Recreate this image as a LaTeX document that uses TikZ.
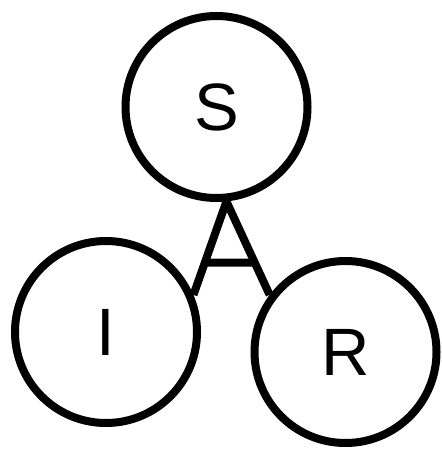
\documentclass[tikz,border=0pt]{standalone}
\usepackage{fontspec}
\setmainfont{Liberation Sans}
\usetikzlibrary{calc}

\begin{document}
\begin{tikzpicture}[x=1pt,y=-1pt]
  \tikzset{
    state/.style={draw, circle, line width=8pt, minimum size=182pt, inner sep=0pt,
                  font=\fontsize{67}{80}\selectfont},
    leg/.style={line width=8pt}
  }
  \useasboundingbox (0,0) rectangle (441,454);

  % compartments
  \node[state] (S) at (216.5,107) {S};
  \node[state] (I) at (106,332) {I};
  \node[state] (R) at (345.5,352) {R};

  % the A between them
  \coordinate (apex) at (S.-84);
  \draw[leg] (apex) -- (I.23);
  \draw[leg] (apex) -- (R.143);
  \draw[leg] ($(apex)!0.655!(I.23)$) -- ($(apex)!0.655!(R.143)$);
\end{tikzpicture}
\end{document}
